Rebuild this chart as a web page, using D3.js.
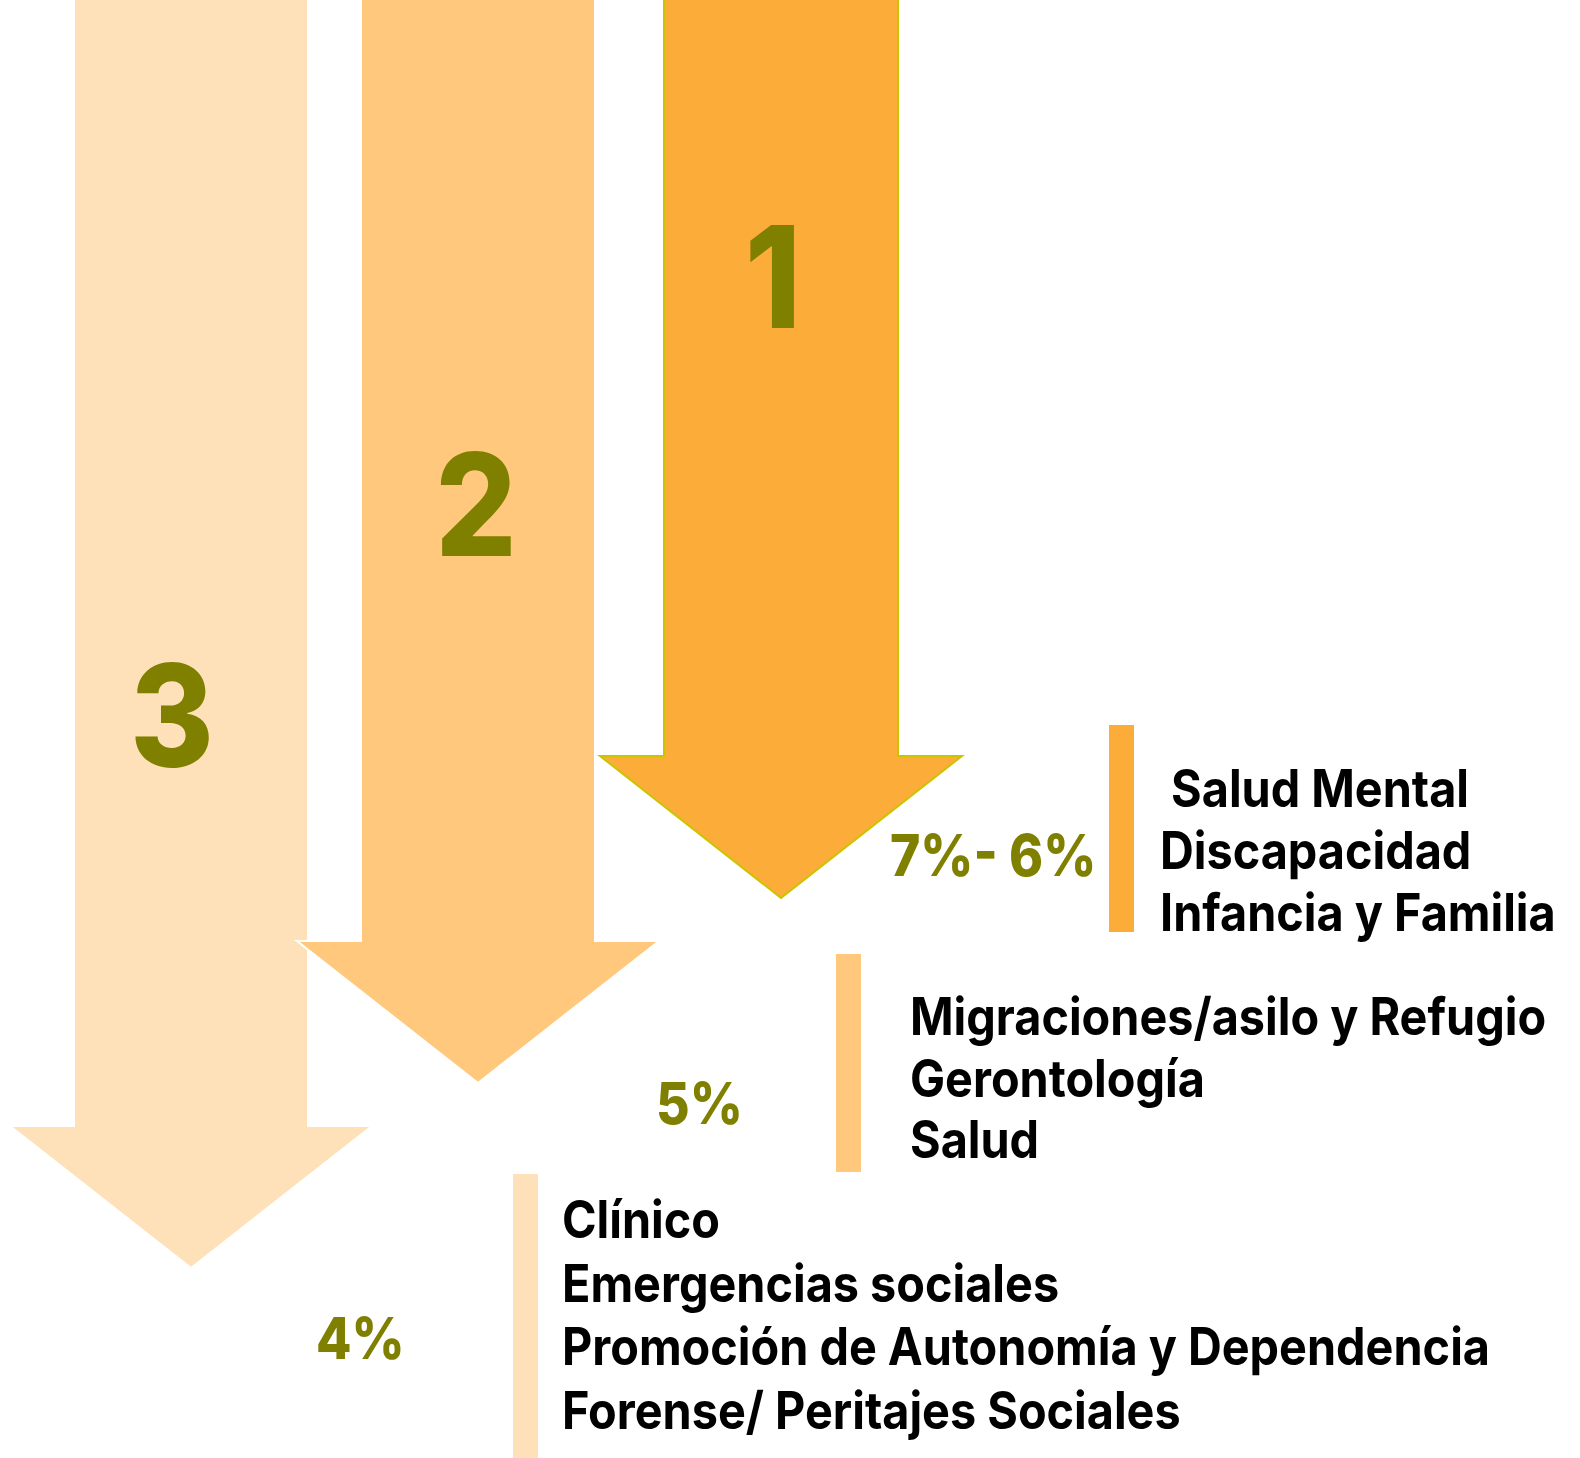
<!DOCTYPE html>
<html>
<head>
<meta charset="utf-8">
<script src="https://cdn.jsdelivr.net/npm/d3@7"></script>
<style>
  html, body { margin: 0; padding: 0; background: #ffffff; }
  svg { display: block; }
  text { white-space: pre; }
</style>
</head>
<body>
<script>
// ---- data ----
const ranks = ["1", "2", "3"];
const percentLabels = ["7%- 6%", "5%", "4%"];
const areaGroups = [
  [" Salud Mental", "Discapacidad", "Infancia y Familia"],
  ["Migraciones/asilo y Refugio", "Gerontología", "Salud"],
  ["Clínico", "Emergencias sociales", "Promoción de Autonomía y Dependencia", "Forense/ Peritajes Sociales"]
];
const rankColors = ["#FCAC38", "#FFC87D", "#FFE1B9"];
const arrowStroke = ["#CCC400", "#FFFFFF", "#FFFFFF"];

// ---- layout ----
const W = 1580, H = 1458;
const svg = d3.select("body").append("svg").attr("width", W).attr("height", H);
const FONT = "Inter, 'Open Sans', sans-serif";

const color = d3.scaleOrdinal().domain(ranks).range(rankColors);
const stroke = d3.scaleOrdinal().domain(ranks).range(arrowStroke);
const xArrow = d3.scaleOrdinal().domain(ranks).range([781, 478, 191]);
const yTip = d3.scaleLinear().domain([1, 3]).range([898, 1268]);
const xNum = d3.scaleOrdinal().domain(ranks).range([773, 476, 172]);
const yNum = d3.scaleOrdinal().domain(ranks).range([328, 556, 767]);

const shaftHalf = 117, headHalf = 181, headH = 142;

const arrowPath = r => {
  const cx = xArrow(r), tip = yTip(+r), hy = tip - headH;
  const p = d3.path();
  p.moveTo(cx - shaftHalf, -10);
  p.lineTo(cx + shaftHalf, -10);
  p.lineTo(cx + shaftHalf, hy);
  p.lineTo(cx + headHalf, hy);
  p.lineTo(cx, tip);
  p.lineTo(cx - headHalf, hy);
  p.lineTo(cx - shaftHalf, hy);
  p.closePath();
  return p.toString();
};

// draw arrows from back (3) to front (1)
const order = ranks.slice().reverse();
svg.append("g").selectAll("path").data(order).join("path")
  .attr("d", arrowPath)
  .attr("fill", d => color(d))
  .attr("stroke", d => stroke(d))
  .attr("stroke-width", 2)
  .attr("stroke-linejoin", "miter");

svg.append("g").selectAll("text").data(ranks).join("text")
  .attr("transform", d => `translate(${xNum(d)},${yNum(d)}) scale(0.9,1)`)
  .attr("text-anchor", "middle")
  .attr("font-family", FONT)
  .attr("font-weight", 800)
  .attr("font-size", 142)
  .attr("fill", "#808000")
  .text(d => d);

// ---- side groups ----
const barX = d3.scaleOrdinal().domain(ranks).range([1109, 836, 513]);
const barTop = d3.scaleOrdinal().domain(ranks).range([725, 954, 1174]);
const barBottom = d3.scaleOrdinal().domain(ranks).range([932, 1172, 1470]);
const textX = d3.scaleOrdinal().domain(ranks).range([1160, 910, 562]);
const textY0 = d3.scaleOrdinal().domain(ranks).range([807, 1035, 1238]);
const lineGap = d3.scaleOrdinal().domain(ranks).range([62, 61.5, 63.5]);
const pctX = d3.scaleOrdinal().domain(ranks).range([890, 656, 316]);
const pctY = d3.scaleOrdinal().domain(ranks).range([876, 1124, 1359]);

const groups = svg.append("g").selectAll("g").data(ranks).join("g");

groups.append("rect")
  .attr("x", d => barX(d))
  .attr("y", d => barTop(d))
  .attr("width", 25)
  .attr("height", d => barBottom(d) - barTop(d))
  .attr("fill", d => color(d));

groups.append("text")
  .attr("transform", d => `translate(${pctX(d)},${pctY(d)}) scale(0.89,1)`)
  .attr("font-family", FONT)
  .attr("font-weight", 800)
  .attr("font-size", 58)
  .attr("fill", "#808000")
  .text((d, i) => percentLabels[i]);

groups.each(function(r, i) {
  d3.select(this).selectAll("text.area").data(areaGroups[i]).join("text")
    .attr("class", "area")
    .attr("transform", (d, j) => `translate(${textX(r)},${textY0(r) + j * lineGap(r)}) scale(0.9,1)`)
    .attr("font-family", FONT)
    .attr("font-weight", 700)
    .attr("font-size", 52)
    .attr("fill", "#000000")
    .text(d => d);
});
</script>
</body>
</html>
